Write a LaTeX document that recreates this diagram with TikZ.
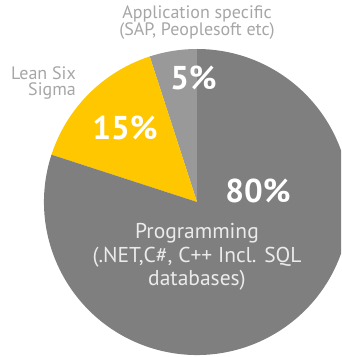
\documentclass[tikz,border=0pt]{standalone}
\usepackage{fontspec}
\setmainfont{PT Sans}
\usetikzlibrary{positioning}

\definecolor{progGray}{HTML}{7F7F7F}
\definecolor{appGray}{HTML}{999999}
\definecolor{leanYellow}{HTML}{FFC700}
\definecolor{labelGray}{HTML}{A6A6A6}

\tikzset{
    pct/.style={text=white, inner sep=0pt, anchor=base, font=\bfseries\fontsize{33}{33}\selectfont},
    outlabel/.style={text=labelGray, inner sep=0pt, anchor=base, font=\fontsize{18}{17}\selectfont},
    inlabel/.style={text=white!92!black, inner sep=0pt, anchor=base, align=center, font=\fontsize{21.5}{24}\selectfont}
}

\begin{document}
\begin{tikzpicture}[x=1pt, y=1pt]
                \useasboundingbox (0,0) rectangle (341,357);
                \clip (0,0) rectangle (341,357);
                \coordinate (O) at (197,155);
                % slices, counter-clockwise from the top
                \fill[appGray] (O) -- ++(90:153) arc[start angle=90, end angle=108, radius=153] -- cycle;
                \fill[leanYellow] (O) -- ++(108:153) arc[start angle=108, end angle=162, radius=153] -- cycle;
                \fill[progGray] (O) -- ++(162:153) arc[start angle=162, end angle=450, radius=153] -- cycle;
                % percentages
                \node[pct] (appPct) at (193.5,267) {5\%};
                \node[pct] (leanPct) at (125,217) {15\%};
                \node[pct] (progPct) at (258,154) {80\%};
                % category names (base = last line)
                \node[outlabel, align=center] (appName) at (197,321) {Application specific\\(SAP, Peoplesoft etc)};
                \node[outlabel, align=right, anchor=base east] (leanName) at (76,261) {Lean Six\\Sigma};
                \node[inlabel] (progName) at (197,71) {Programming\\(.NET,C\#, C++ Incl. SQL\\databases)};
            \end{tikzpicture}
\end{document}
